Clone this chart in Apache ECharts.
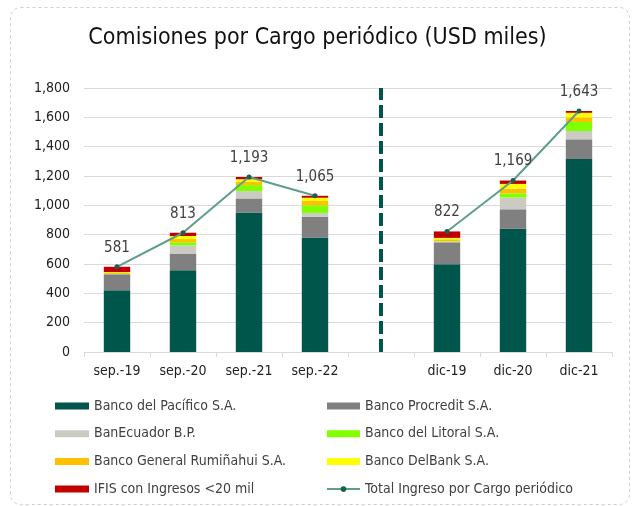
<!DOCTYPE html>
<html>
<head>
<meta charset="utf-8">
<script src="https://cdn.jsdelivr.net/npm/echarts@6/dist/echarts.min.js"></script>
<style>
html,body{margin:0;padding:0;background:#fff;}
#chart{width:635px;height:506px;}
</style>
</head>
<body>
<div id="chart"></div>
<script>
var categories = ['sep.-19', 'sep.-20', 'sep.-21', 'sep.-22', '', 'dic-19', 'dic-20', 'dic-21'];
var pacifico   = [421, 557, 951, 778, '-', 598, 840, 1316];
var procredit  = [109, 114, 96, 143, '-', 150, 133, 134];
var banecuador = [2, 56, 50, 27, '-', 5, 80, 57];
var litoral    = [1, 21, 41, 52, '-', 3, 28, 61];
var ruminahui  = [6, 22, 22, 30, '-', 12, 33, 32];
var delbank    = [6, 21, 18, 22, '-', 10, 32, 31];
var ifis       = [36, 22, 15, 13, '-', 44, 23, 12];
var totals     = [581, 813, 1193, 1065, '-', 822, 1169, 1643];
var yTicks     = [0, 200, 400, 600, 800, 1000, 1200, 1400, 1600, 1800];

var FONT = 'DejaVu Sans Condensed';
function fmt(v){ return Number(v).toLocaleString('en-US'); }

var names = ['Banco del Pacífico S.A.', 'Banco Procredit S.A.', 'BanEcuador B.P.', 'Banco del Litoral S.A.',
             'Banco General Rumiñahui S.A.', 'Banco DelBank S.A.', 'IFIS con Ingresos <20 mil', 'Total Ingreso por Cargo periódico'];
var colors = ['#01564B', '#808080', '#CBCBC3', '#80FF00', '#FFC000', '#FFFF00', '#C00000'];
var stacks = [pacifico, procredit, banecuador, litoral, ruminahui, delbank, ifis];

var series = stacks.map(function(d, i){
  return {
    name: names[i], type: 'bar', stack: 'total', data: d, barWidth: '40%',
    itemStyle: { color: colors[i] }
  };
});
series.push({
  name: names[7], type: 'line', data: totals, connectNulls: false,
  symbol: 'circle', symbolSize: 5,
  lineStyle: { color: '#5F9E8A', width: 2 },
  itemStyle: { color: '#1E5E4C' },
  label: { show: true, position: 'top', distance: 9, fontFamily: FONT, fontSize: 15, color: '#404040',
           formatter: function(p){ return fmt(p.value); } },
  z: 5,
  markLine: {
    silent: true, symbol: 'none', animation: false,
    label: { show: false },
    lineStyle: { color: '#01564B', width: 4, type: [13, 5] },
    data: [{ xAxis: 3.88 }]
  }
});

function legendData(list){
  return list.map(function(n){ return n === names[7] ? { name: n } : { name: n, icon: 'rect' }; });
}

var chart = echarts.init(document.getElementById('chart'), null, { renderer: 'canvas' });
chart.setOption({
  animation: false,
  backgroundColor: '#fff',
  title: {
    text: 'Comisiones por Cargo periódico (USD miles)',
    left: 'center', top: 22,
    textStyle: { fontFamily: FONT, fontSize: 23, fontWeight: 'normal', color: '#111' }
  },
  graphic: [{
    type: 'rect', left: 8, top: 5, shape: { width: 619, height: 497, r: 10 },
    style: { fill: 'none', stroke: '#cfcfcf', lineWidth: 1, lineDash: [3, 3] }, silent: true
  }],
  grid: { left: 84, right: 23, top: 88, bottom: 154 },
  xAxis: {
    type: 'category', data: categories,
    axisLine: { lineStyle: { color: '#d9d9d9', width: 1 } },
    axisTick: { show: true, length: 5, lineStyle: { color: '#d9d9d9' } },
    axisLabel: { fontFamily: FONT, fontSize: 14, color: '#222', margin: 12 }
  },
  yAxis: {
    type: 'value', min: 0, max: 1800, interval: 200,
    axisLine: { show: false }, axisTick: { show: false },
    splitLine: { lineStyle: { color: '#d9d9d9', width: 1 } },
    axisLabel: { fontFamily: FONT, fontSize: 14, color: '#222', margin: 14,
                 formatter: function(v){ return yTicks.indexOf(v) >= 0 ? fmt(v) : ''; } }
  },
  legend: [{
    data: legendData([names[0], names[2], names[4], names[6]]),
    orient: 'vertical', left: 55, top: 398, padding: 0,
    itemWidth: 34, itemHeight: 7, itemGap: 11.7,
    textStyle: { fontFamily: FONT, fontSize: 14, color: '#404040', lineHeight: 16 }
  }, {
    data: legendData([names[1], names[3], names[5], names[7]]),
    orient: 'vertical', left: 326, top: 398, padding: 0,
    itemWidth: 33, itemHeight: 7, itemGap: 11.7,
    textStyle: { fontFamily: FONT, fontSize: 14, color: '#404040', lineHeight: 16 }
  }],
  series: series
});
</script>
</body>
</html>
